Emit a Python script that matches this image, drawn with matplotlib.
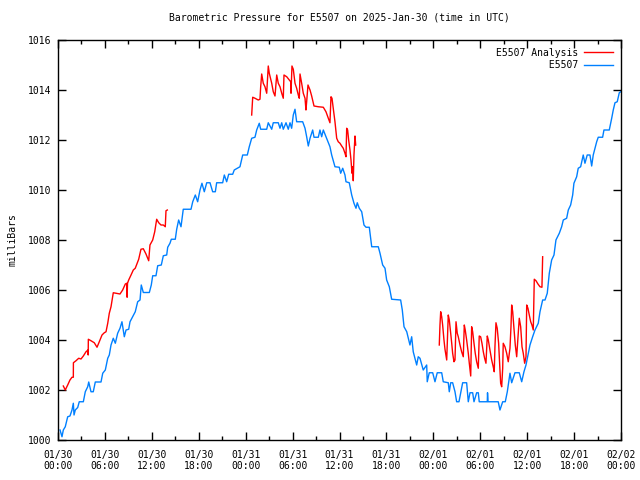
import numpy as np
import matplotlib
matplotlib.use("Agg")
import matplotlib.pyplot as plt
from matplotlib.ticker import MultipleLocator

# hours since 2025-01-30 00:00 UTC, pressure in mb
obs_hours = [0.26, 0.51, 0.68, 0.93, 1.24, 1.53, 1.79, 1.96, 2.05, 2.21, 2.52, 2.72, 3.24, 3.49, 3.80, 3.93,
             4.22, 4.51, 4.77, 5.50, 5.72, 6.05, 6.36, 6.56, 6.78, 7.07, 7.33, 7.63, 7.93, 8.18, 8.48, 8.70,
             9.04, 9.21, 9.55, 9.88, 10.19, 10.49, 10.65, 10.91, 11.68, 11.93, 12.11, 12.53, 12.75, 13.21,
             13.47, 13.90, 14.03, 14.32, 14.49, 15.00, 15.18, 15.43, 15.73, 16.02, 17.01, 17.23, 17.56, 17.86,
             18.16, 18.41, 18.71, 19.02, 19.44, 19.78, 20.12, 20.29, 21.06, 21.27, 21.57, 21.83, 22.34, 22.54,
             23.27, 23.62, 24.21, 24.46, 24.77, 25.19, 25.41, 25.74, 25.92, 26.69, 26.89, 27.33, 27.53, 28.17,
             28.39, 28.61, 28.81, 29.16, 29.45, 29.67, 29.88, 30.09, 30.31, 30.52, 31.29, 31.59, 31.80, 32.01,
             32.23, 32.57, 32.74, 33.29, 33.50, 33.72, 33.93, 34.27, 34.44, 34.78, 35.00, 35.42, 35.97, 36.15,
             36.41, 36.70, 36.83, 37.25, 37.56, 37.85, 38.11, 38.27, 38.53, 38.84, 39.13, 39.39, 39.81, 40.12,
             40.96, 41.18, 41.52, 41.82, 42.03, 42.37, 42.67, 43.82, 44.03, 44.25, 44.60, 44.80, 45.01, 45.23,
             45.43, 45.65, 45.87, 46.07, 46.29, 46.71, 47.15, 47.22, 47.48, 47.92, 48.21, 48.50, 49.07, 49.27,
             49.91, 50.04, 50.22, 50.47, 50.77, 50.98, 51.28, 51.53, 51.75, 52.26, 52.47, 52.69, 53.03, 53.20,
             53.54, 53.75, 53.87, 54.90, 54.93, 55.00, 56.30, 56.52, 56.87, 57.20, 57.46, 57.80, 58.02, 58.44,
             58.99, 59.30, 59.59, 59.85, 60.06, 60.36, 60.70, 61.00, 61.42, 61.64, 61.98, 62.28, 62.57, 62.83,
             63.13, 63.43, 63.68, 64.11, 64.41, 64.62, 65.05, 65.26, 65.56, 65.82, 65.98, 66.33, 66.53, 66.84,
             67.17, 67.39, 67.68, 68.03, 68.25, 68.45, 68.89, 69.09, 69.65, 69.82, 70.50, 70.81, 71.01, 71.23,
             71.52, 71.78, 71.96]
obs_mb = [1000.40, 1000.13, 1000.40, 1000.53, 1000.93, 1000.96, 1001.20, 1001.47, 1001.00, 1001.20, 1001.30,
          1001.53, 1001.53, 1001.93, 1002.13, 1002.32, 1001.93, 1001.93, 1002.32, 1002.32, 1002.67, 1002.80,
          1003.27, 1003.40, 1003.80, 1004.07, 1003.87, 1004.27, 1004.47, 1004.73, 1004.13, 1004.40, 1004.43,
          1004.73, 1004.93, 1005.13, 1005.53, 1005.60, 1006.20, 1005.90, 1005.90, 1006.20, 1006.57, 1006.57,
          1006.97, 1007.00, 1007.37, 1007.40, 1007.71, 1007.87, 1008.03, 1008.03, 1008.43, 1008.80, 1008.53,
          1009.23, 1009.23, 1009.53, 1009.80, 1009.53, 1010.00, 1010.27, 1009.93, 1010.29, 1010.29, 1009.93,
          1009.93, 1010.29, 1010.29, 1010.60, 1010.33, 1010.63, 1010.63, 1010.80, 1010.93, 1011.40, 1011.40,
          1011.73, 1012.07, 1012.11, 1012.40, 1012.67, 1012.43, 1012.43, 1012.69, 1012.43, 1012.69, 1012.69,
          1012.47, 1012.69, 1012.43, 1012.69, 1012.43, 1012.69, 1012.47, 1013.00, 1013.23, 1012.73, 1012.73,
          1012.47, 1012.13, 1011.76, 1012.07, 1012.40, 1012.11, 1012.11, 1012.40, 1012.13, 1012.40, 1012.13,
          1012.00, 1011.73, 1011.40, 1010.93, 1010.91, 1010.67, 1010.87, 1010.60, 1010.33, 1010.29, 1009.80,
          1009.47, 1009.27, 1009.49, 1009.27, 1009.13, 1008.60, 1008.51, 1008.51, 1007.73, 1007.73, 1007.47,
          1007.00, 1006.87, 1006.40, 1006.13, 1005.63, 1005.60, 1005.20, 1004.53, 1004.33, 1004.07, 1003.80,
          1004.13, 1003.53, 1003.27, 1003.00, 1003.33, 1003.27, 1002.80, 1003.00, 1002.33, 1002.69, 1002.69,
          1002.33, 1002.69, 1002.69, 1002.33, 1002.29, 1001.93, 1002.29, 1002.29, 1001.93, 1001.53, 1001.53,
          1001.93, 1002.29, 1002.29, 1001.53, 1001.89, 1001.89, 1001.53, 1001.89, 1001.89, 1001.53, 1001.53,
          1001.89, 1001.53, 1001.53, 1001.20, 1001.53, 1001.53, 1001.93, 1002.67, 1002.29, 1002.69, 1002.69,
          1002.33, 1002.73, 1003.00, 1003.33, 1003.80, 1004.13, 1004.40, 1004.67, 1005.13, 1005.60, 1005.60,
          1005.87, 1006.67, 1007.20, 1007.40, 1008.00, 1008.27, 1008.53, 1008.80, 1008.87, 1009.20, 1009.40,
          1009.80, 1010.27, 1010.53, 1010.87, 1010.93, 1011.40, 1011.07, 1011.40, 1011.40, 1010.96, 1011.40,
          1011.93, 1012.11, 1012.11, 1012.40, 1012.40, 1012.87, 1013.20, 1013.49, 1013.53, 1013.89, 1013.93]

# analysis runs, three separate blocks
ana1_hours = [0.68, 0.93, 1.24, 1.53, 1.79, 1.96, 1.97, 2.30, 2.65, 2.94, 3.24, 3.58, 3.84, 3.86, 3.88, 4.22,
              4.64, 4.99, 5.28, 5.63, 5.92, 6.14, 6.36, 6.56, 6.78, 7.07, 7.42, 7.93, 8.27, 8.61, 8.79, 8.84,
              8.89, 9.04, 9.34, 9.63, 9.88, 10.32, 10.61, 10.91, 11.25, 11.60, 11.76, 12.11, 12.37, 12.62,
              12.88, 13.17, 13.47, 13.72, 13.81, 13.98]
ana1_mb = [1002.16, 1002.00, 1002.20, 1002.40, 1002.51, 1002.51, 1003.09, 1003.17, 1003.27, 1003.24, 1003.36,
           1003.53, 1003.60, 1003.40, 1004.03, 1003.97, 1003.89, 1003.71, 1003.93, 1004.20, 1004.29, 1004.33,
           1004.67, 1005.07, 1005.33, 1005.89, 1005.87, 1005.84, 1006.00, 1006.24, 1006.27, 1005.71, 1006.27,
           1006.40, 1006.60, 1006.80, 1006.87, 1007.23, 1007.63, 1007.65, 1007.44, 1007.17, 1007.80, 1008.00,
           1008.33, 1008.83, 1008.69, 1008.60, 1008.60, 1008.53, 1009.17, 1009.20]

ana2_hours = [24.77, 24.90, 25.19, 25.61, 25.83, 25.92, 26.05, 26.25, 26.47, 26.69, 26.89, 27.02, 27.33, 27.53,
              27.75, 27.97, 28.17, 28.39, 28.61, 28.81, 28.90, 29.25, 29.58, 29.76, 29.80, 29.92, 30.09, 30.31,
              30.52, 30.73, 30.86, 30.95, 31.16, 31.37, 31.59, 31.71, 31.80, 31.97, 32.23, 32.44, 32.74, 33.29,
              33.93, 34.27, 34.57, 34.78, 34.91, 35.04, 35.20, 35.42, 35.64, 35.84, 36.06, 36.28, 36.48, 36.70,
              36.83, 36.92, 37.04, 37.17, 37.34, 37.47, 37.60, 37.69, 37.76, 37.85, 37.98, 38.07]
ana2_mb = [1013.00, 1013.71, 1013.67, 1013.60, 1013.63, 1014.13, 1014.64, 1014.27, 1014.13, 1013.87, 1014.96,
           1014.67, 1014.27, 1013.93, 1013.76, 1014.60, 1014.27, 1014.13, 1013.87, 1013.67, 1014.60, 1014.53,
           1014.40, 1014.33, 1013.87, 1014.96, 1014.83, 1014.27, 1014.07, 1013.80, 1013.67, 1014.64, 1014.27,
           1013.87, 1013.67, 1013.20, 1013.53, 1014.20, 1014.00, 1013.76, 1013.36, 1013.33, 1013.31, 1013.13,
           1012.87, 1012.69, 1013.73, 1013.67, 1013.27, 1012.73, 1012.07, 1011.93, 1011.87, 1011.76, 1011.67,
           1011.47, 1011.33, 1012.47, 1012.40, 1012.00, 1011.60, 1011.20, 1010.67, 1010.93, 1010.37, 1011.40,
           1012.16, 1011.80]

ana3_hours = [48.76, 48.85, 48.94, 49.07, 49.19, 49.36, 49.49, 49.71, 49.91, 50.04, 50.22, 50.35, 50.47, 50.64,
              50.77, 50.90, 51.06, 51.19, 51.41, 51.62, 51.83, 51.96, 52.08, 52.26, 52.47, 52.60, 52.78, 52.90,
              53.03, 53.20, 53.36, 53.54, 53.75, 53.87, 54.05, 54.22, 54.39, 54.56, 54.73, 54.90, 55.03, 55.24,
              55.46, 55.66, 55.79, 55.88, 56.01, 56.17, 56.35, 56.52, 56.61, 56.74, 56.87, 56.94, 57.16, 57.38,
              57.58, 57.80, 57.93, 58.02, 58.15, 58.31, 58.48, 58.66, 58.86, 58.99, 59.17, 59.34, 59.50, 59.68,
              59.85, 59.94, 60.10, 60.27, 60.45, 60.61, 60.78, 60.91, 61.13, 61.38, 61.64, 61.89, 61.98]
ana3_mb = [1003.80, 1004.60, 1005.13, 1004.93, 1004.60, 1004.00, 1003.63, 1003.20, 1005.00, 1004.80, 1004.27,
           1003.87, 1003.47, 1003.13, 1003.20, 1004.73, 1004.27, 1004.13, 1003.80, 1003.53, 1003.33, 1004.60,
           1004.40, 1004.00, 1003.47, 1003.07, 1002.56, 1004.53, 1004.33, 1003.87, 1003.47, 1003.13, 1002.87,
           1004.16, 1004.13, 1003.87, 1003.53, 1003.27, 1003.07, 1004.16, 1004.00, 1003.60, 1003.20, 1002.93,
           1002.73, 1003.73, 1004.69, 1004.47, 1003.87, 1002.80, 1002.27, 1002.13, 1002.87, 1003.87, 1003.73,
           1003.47, 1003.13, 1003.67, 1004.53, 1005.40, 1005.13, 1004.47, 1003.80, 1003.33, 1004.27, 1004.87,
           1004.53, 1003.73, 1003.47, 1003.07, 1003.33, 1005.40, 1005.27, 1005.00, 1004.73, 1004.60, 1004.40,
           1006.43, 1006.37, 1006.24, 1006.13, 1006.11, 1007.33]

tick_hours = list(range(0, 73, 6))
tick_labels = ["01/30\n00:00", "01/30\n06:00", "01/30\n12:00", "01/30\n18:00",
               "01/31\n00:00", "01/31\n06:00", "01/31\n12:00", "01/31\n18:00",
               "02/01\n00:00", "02/01\n06:00", "02/01\n12:00", "02/01\n18:00",
               "02/02\n00:00"]

plt.rcParams['font.family'] = 'DejaVu Sans Mono'
plt.rcParams['font.size'] = 7

fig = plt.figure(figsize=(6.4, 4.8), dpi=100)
ax = fig.add_axes([58/640, 40/480, 563/640, 400/480])

red = '#ff0000'
blue = '#0080ff'
ax.plot(ana1_hours, ana1_mb, color=red, lw=1, label='E5507 Analysis')
ax.plot(ana2_hours, ana2_mb, color=red, lw=1)
ax.plot(ana3_hours, ana3_mb, color=red, lw=1)
ax.plot(obs_hours, obs_mb, color=blue, lw=1, label='         E5507')

ax.set_xlim(0, 72)
ax.set_ylim(1000, 1016)
ax.set_xticks(tick_hours)
ax.set_xticklabels(tick_labels)
ax.xaxis.set_minor_locator(MultipleLocator(3))
ax.yaxis.set_major_locator(MultipleLocator(2))
ax.tick_params(which='both', direction='in', top=True, right=True, color='black')
ax.tick_params(which='major', length=6, width=1)
ax.tick_params(axis='x', which='major', pad=7)
ax.tick_params(axis='y', which='major', pad=5)
ax.tick_params(which='minor', length=3, width=1)
for sp in ax.spines.values():
    sp.set_linewidth(1)

ax.set_ylabel('milliBars', labelpad=7)
ax.set_title('Barometric Pressure for E5507 on 2025-Jan-30 (time in UTC)', fontsize=7, pad=14)

leg = ax.legend(loc='upper right', frameon=False, markerfirst=False,
                handlelength=3, borderaxespad=0.4, labelspacing=0.25, handletextpad=0.6)

fig.savefig('out.png', dpi=100)
